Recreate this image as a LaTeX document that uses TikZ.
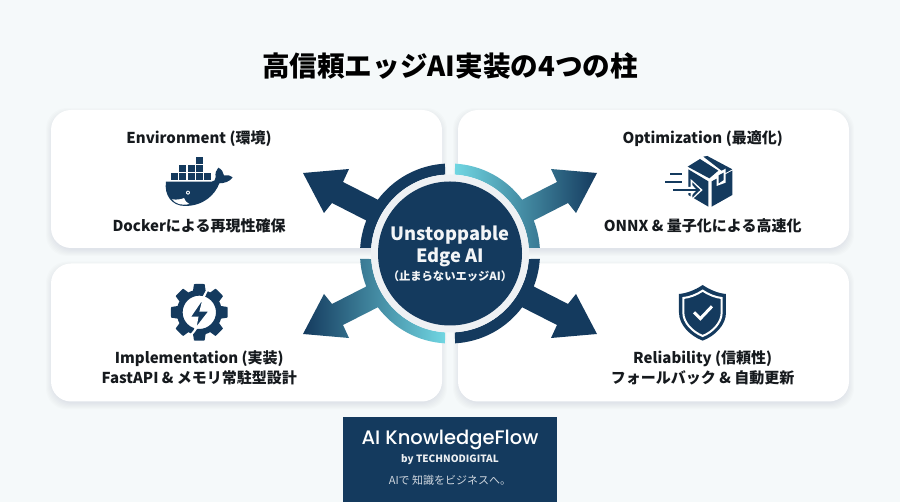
\documentclass[tikz,border=0pt]{standalone}
\usepackage{fontspec}
\setmainfont{Noto Sans CJK JP}
\newfontfamily\logofont{Poppins Medium}
\usetikzlibrary{positioning}
\definecolor{navy}{HTML}{143A5E}
\definecolor{tealmid}{HTML}{2F7F9A}
\definecolor{cyanlight}{HTML}{70D6E2}
\definecolor{pagebg}{HTML}{F5F9FA}
\definecolor{inktext}{HTML}{161A1E}
\definecolor{shadowcol}{HTML}{2A3A4A}
\tikzset{
  pillartitle/.style={font=\fontsize{15}{18}\selectfont\bfseries, text=inktext, inner sep=0pt},
  pillartext/.style={font=\fontsize{15}{18}\selectfont\bfseries, text=inktext, inner sep=0pt},
  hubtext/.style={font=\fontsize{18.3}{22}\selectfont\bfseries, text=white!95!navy, inner sep=0pt},
  pillarcard/.style={fill=white, rounded corners=20pt, minimum width=391pt, minimum height=138pt, inner sep=0pt},
  ringflat/.style={fill=navy},
}
% one ring quarter with its arrow, upper right version
\newcommand{\pillararrow}[3]{
  \path[xscale=#1, yscale=#2, #3]
    (4:79) arc[start angle=4, end angle=86.4, radius=79]
    -- (86.8:90) arc[start angle=86.8, end angle=36.7, radius=90]
    -- (107,71.5) -- (101,84.5) -- (147,80.5) -- (126,40.5) -- (118,50.5)
    -- (21.5:90) arc[start angle=21.5, end angle=3.5, radius=90] -- cycle;
}
\begin{document}
\begin{tikzpicture}[x=1pt, y=1pt]
  \useasboundingbox (0,0) rectangle (900,502);
  \fill[pagebg] (0,0) rectangle (900,502);

  \node[font=\bfseries\fontsize{27.6}{32}\selectfont, text=black, inner sep=0pt] (title) at (450,436) {高信頼エッジAI実装の4つの柱};

  % shadows under the cards
  \foreach \cx/\cy in {246.5/323, 653.5/323, 246.5/169.5, 653.5/169.5}
  {\foreach \s in {1,...,7}
     \fill[shadowcol, opacity=0.012, rounded corners=21pt]
       (\cx-195.5-\s+2, \cy-69-\s-1) rectangle (\cx+195.5+\s-2, \cy+69+\s-5);
  }
  \node[pillarcard] (envcard) at (246.5,323) {};
  \node[pillarcard] (optcard) at (653.5,323) {};
  \node[pillarcard] (implcard) at (246.5,169.5) {};
  \node[pillarcard] (relcard) at (653.5,169.5) {};

  % hub
  \begin{scope}[shift={(450,248.5)}]
    \pillararrow{-1}{1}{ringflat}
    \pillararrow{1}{-1}{ringflat}
    \pillararrow{1}{1}{left color=cyanlight, middle color=tealmid, right color=navy}
    \pillararrow{-1}{-1}{left color=navy, middle color=tealmid, right color=cyanlight}
    \fill[white!93!navy] (0,0) circle[radius=79];
    \fill[navy] (0,0) circle[radius=72];
  \end{scope}
  \node[hubtext] (hubone) at (450,266.5) {Unstoppable};
  \node[hubtext] (hubtwo) at (450,245) {Edge AI};
  \node[hubtext, font=\fontsize{11.3}{14}\selectfont\bfseries] (hubthree) at (450,226) {（止まらないエッジAI）};

  % card texts
  \node[pillartitle] (envhead) at (199,363.5) {Environment (環境)};
  \node[pillartext] (envbody) at (199,276.5) {Dockerによる再現性確保};
  \node[pillartitle] (opthead) at (702.7,363.5) {Optimization (最適化)};
  \node[pillartext] (optbody) at (702.7,276.5) {ONNX \& 量子化による高速化};
  \node[pillartitle] (implhead) at (199.3,143.5) {Implementation (実装)};
  \node[pillartext] (implbody) at (199.3,123.8) {FastAPI \& メモリ常駐型設計};
  \node[pillartitle] (relhead) at (702.7,143.5) {Reliability (信頼性)};
  \node[pillartext] (relbody) at (702.7,123.8) {フォールバック \& 自動更新};

  % whale
  \begin{scope}[shift={(40,402)}, x=0.3333pt, y=-0.3333pt]
    \foreach \bx/\by in {393/220, 418/220, 443/220, 468/220, 493/220, 418/196, 443/196, 468/196, 468/172}
      \fill[navy] (\bx,\by) rectangle (\bx+21,\by+20);
    \fill[navy] (378,245) -- (515,245) .. controls (522,245) and (527,240) .. (527,232)
      .. controls (525,220) and (528,210) .. (535,203)
      .. controls (545,208) and (550,216) .. (552,226)
      .. controls (562,224) and (572,226) .. (578,232)
      .. controls (570,245) and (552,250) .. (538,250)
      .. controls (525,285) and (490,318) .. (435,318)
      .. controls (395,318) and (372,285) .. (378,245) -- cycle;
    \fill[white] (396,298) .. controls (410,300) and (425,298) .. (432,294)
      .. controls (434,302) and (440,308) .. (448,312)
      .. controls (425,318) and (408,312) .. (396,298) -- cycle;
    \fill[white] (444,278) circle[radius=6];
    \fill[navy] (444,278) circle[radius=3];
  \end{scope}

  % parcel
  \begin{scope}[shift={(560,392)}, x=0.3333pt, y=-0.3333pt]
    \fill[navy] (385,178) -- (445,214) -- (445,290) -- (385,255) -- cycle;
    \fill[navy] (455,214) -- (517,182) -- (517,255) -- (455,290) -- cycle;
    \fill[navy] (383,170) -- (420,147) -- (475,182) -- (448,205) -- cycle;
    \fill[navy] (430,140) -- (442,138) -- (517,178) -- (495,190) -- cycle;
    \fill[white] (470,190) -- (497,176) -- (497,218) -- (470,228) -- cycle;
    \fill[navy] (476,196) -- (491,188) -- (491,210) -- (476,220) -- cycle;
    \fill[white] (375,231) -- (392,231) -- (392,207) -- (428,240) -- (392,273) -- (392,249) -- (375,249) -- cycle;
    \fill[navy] (330,190) rectangle (365,196);
    \fill[navy] (315,212) rectangle (365,218);
    \fill[navy] (338,237) rectangle (410,243);
    \fill[navy] (397,217) -- (421,240) -- (397,263) -- (397,255) -- (411,240) -- (397,225) -- cycle;
  \end{scope}

  % gear
  \begin{scope}[shift={(60,232)}, x=0.3333pt, y=-0.3333pt]
    \foreach \a in {0,45,...,315}
      \fill[navy, shift={(418,127)}, rotate=\a] (58,-20) -- (84,-16) -- (85,-12) -- (85,12) -- (84,16) -- (58,20) -- cycle;
    \fill[navy, even odd rule] (418,127) circle[radius=68] (418,127) circle[radius=50];
    \draw[white, line width=2pt] (433,77) -- (444,56);
    \draw[white, line width=2pt] (405,180) -- (394,194);
    \fill[navy, draw=white, line width=2pt, line join=miter]
      (433,77) -- (388,143) -- (412,143) -- (405,180) -- (450,122) -- (422,122) -- cycle;
  \end{scope}

  % shield
  \begin{scope}[shift={(560,232)}, x=0.3333pt, y=-0.3333pt]
    \fill[navy] (428,45) .. controls (450,60) and (475,70) .. (498,72)
      -- (498,128) .. controls (498,165) and (465,198) .. (428,212)
      .. controls (391,198) and (357,165) .. (357,128) -- (357,72)
      .. controls (380,70) and (406,60) .. (428,45) -- cycle;
    \draw[white, line width=2pt] (428,62) .. controls (446,74) and (466,82) .. (485,84)
      -- (485,128) .. controls (485,158) and (458,186) .. (428,198)
      .. controls (398,186) and (370,158) .. (370,128) -- (370,84)
      .. controls (390,82) and (410,74) .. (428,62) -- cycle;
    \draw[white, line width=3pt] (402,127) -- (421,146) -- (456,109);
  \end{scope}

  % logo block
  \fill[navy] (343.3,0) rectangle (556.7,85.3);
  \node[font=\logofont\fontsize{19.5}{22}\selectfont, text=white, inner sep=0pt] (logoname) at (450,62) {AI KnowledgeFlow};
  \node[font=\bfseries\fontsize{10}{12}\selectfont, text=white!92!navy, inner sep=0pt] (logoby) at (450,42.7) {by TECHNODIGITAL};
  \node[font=\fontsize{11}{13}\selectfont, text=white!80!navy, inner sep=0pt] (logotag) at (450,22) {AIで 知識をビジネスへ。};
\end{tikzpicture}
\end{document}
